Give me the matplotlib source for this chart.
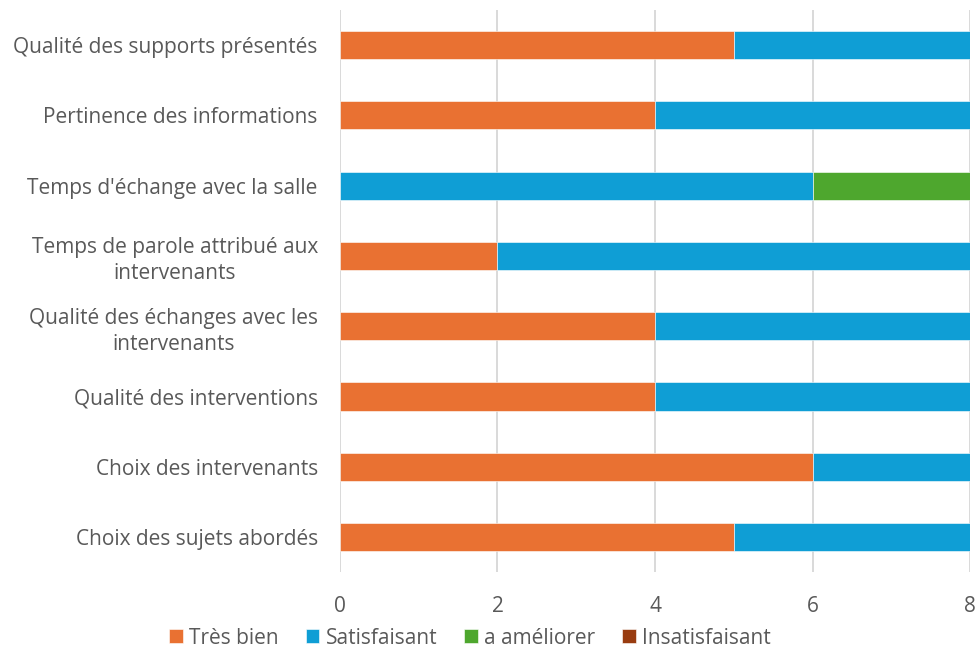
import matplotlib
matplotlib.use("Agg")
import matplotlib.pyplot as plt
import numpy as np

plt.rcParams['font.family'] = ['Open Sans', 'DejaVu Sans']

# categories from top to bottom
categories = [
    "Qualité des supports présentés",
    "Pertinence des informations",
    "Temps d'échange avec la salle",
    "Temps de parole attribué aux\nintervenants",
    "Qualité des échanges avec les\nintervenants",
    "Qualité des interventions",
    "Choix des intervenants",
    "Choix des sujets abordés",
]
tres_bien = [5, 4, 0, 2, 4, 4, 6, 5]
satisfaisant = [3, 4, 6, 6, 4, 4, 2, 3]
a_ameliorer = [0, 0, 2, 0, 0, 0, 0, 0]
insatisfaisant = [0, 0, 0, 0, 0, 0, 0, 0]

series = ["Très bien", "Satisfaisant", "a améliorer", "Insatisfaisant"]
colors = ["#E97132", "#0F9ED5", "#4EA72E", "#993C10"]
values = [tres_bien, satisfaisant, a_ameliorer, insatisfaisant]

fig = plt.figure(figsize=(9.75, 6.48), dpi=100)
ax = fig.add_axes([0.3487, 0.117, 0.6462, 0.8676])

y = np.arange(len(categories))[::-1]
left = np.zeros(len(categories))
for name, col, vals in zip(series, colors, values):
    vals = np.array(vals, dtype=float)
    ax.barh(y, vals, left=left, height=0.4, color=col, label=name,
            edgecolor="white", linewidth=0.4, zorder=3)
    left += vals

ax.set_xlim(0, 8)
ax.set_ylim(-0.5, 7.5)
ax.set_xticks([0, 2, 4, 6, 8])
ax.set_yticks(y)
ax.set_yticklabels(categories, multialignment="center", linespacing=1.3)
ax.tick_params(axis="both", length=0, colors="#595959", labelsize=15)
ax.tick_params(axis="x", pad=17)
ax.tick_params(axis="y", pad=16)
ax.grid(axis="x", color="#D9D9D9", linewidth=1.4, zorder=0)
for s in ax.spines.values():
    s.set_visible(False)

leg = fig.legend(loc="lower center", bbox_to_anchor=(0.482, -0.03), ncol=4,
                 frameon=False, fontsize=15, handlelength=0.65, handleheight=0.65,
                 handletextpad=0.3, columnspacing=1.3, labelcolor="#595959")

fig.savefig("out.png", dpi=100)
